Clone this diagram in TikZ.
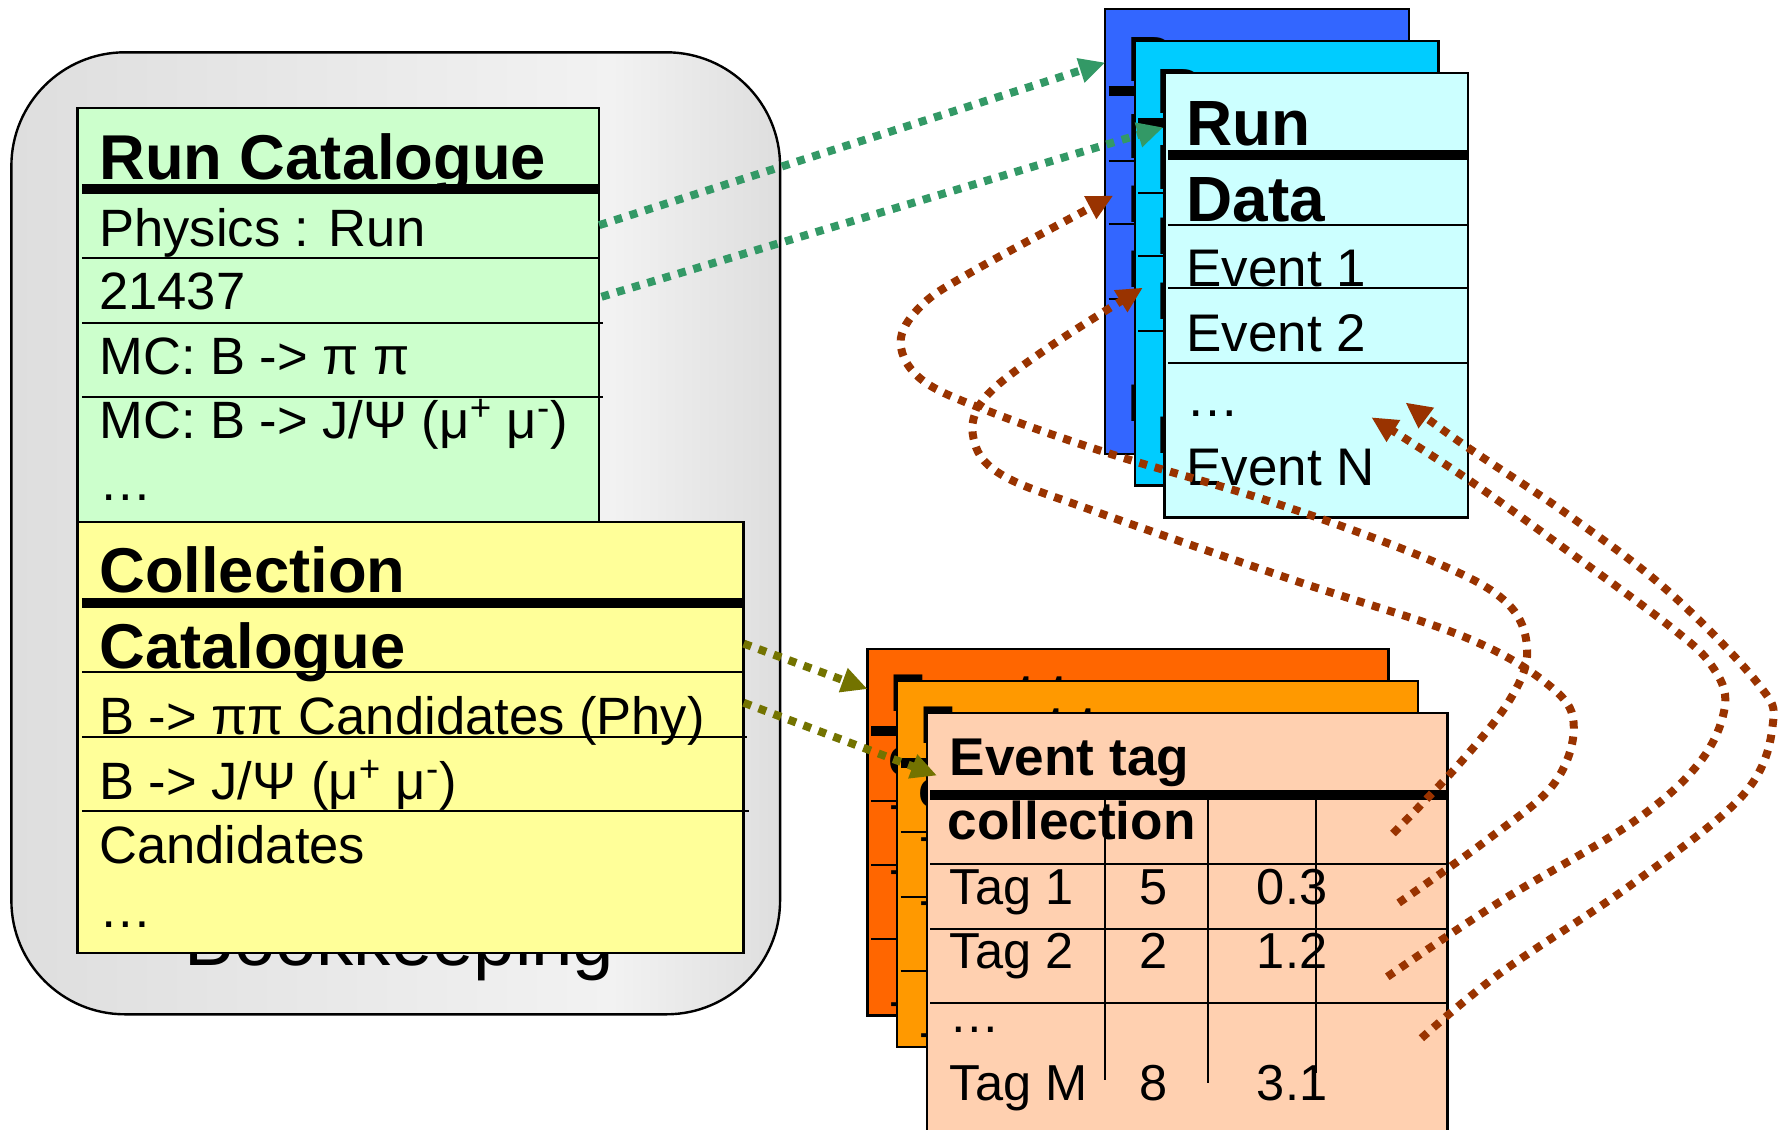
\documentclass[tikz,border=0pt]{standalone}
\usepackage{fontspec}
\setmainfont{Liberation Sans}
\usetikzlibrary{arrows.meta}
\definecolor{bkgray}{HTML}{DEDEDE}
\definecolor{bklight}{HTML}{F2F2F2}
\definecolor{rcgreen}{HTML}{CCFFCC}
\definecolor{ccyellow}{HTML}{FFFF99}
\definecolor{pgblue}{HTML}{3366FF}
\definecolor{pgcyan}{HTML}{00CCFF}
\definecolor{pglight}{HTML}{CCFFFF}
\definecolor{pgorange}{HTML}{FF6600}
\definecolor{pgamber}{HTML}{FF9900}
\definecolor{pgpeach}{HTML}{FFD0B0}
\definecolor{arrgreen}{HTML}{339966}
\definecolor{arrolive}{HTML}{737300}
\definecolor{arrbrown}{HTML}{993300}
\pgfdeclarehorizontalshading{bkshade}{100bp}{color(0bp)=(bkgray); color(25bp)=(bkgray); color(64bp)=(bklight); color(75bp)=(bkgray); color(100bp)=(bkgray)}
\tikzset{
  boxline/.style={draw=black, line width=1.2pt},
  thickrule/.style={line width=5pt},
  rowrule/.style={line width=1pt},
  basetxt/.style={inner sep=0pt, anchor=base west},
  cttl/.style={basetxt, font=\fontsize{31.7}{36}\selectfont\bfseries},
  ctxt/.style={basetxt, font=\fontsize{26.3}{30}\selectfont},
  rttl/.style={basetxt, font=\fontsize{32}{36}\selectfont\bfseries},
  rtxt/.style={basetxt, font=\fontsize{26.5}{30}\selectfont},
  ettl/.style={basetxt, font=\fontsize{26.6}{30}\selectfont\bfseries},
  etxt/.style={basetxt, font=\fontsize{25.3}{29}\selectfont},
  bktxt/.style={basetxt, font=\fontsize{37.2}{42}\selectfont},
  dotlink/.style={line width=4pt, dash pattern=on 4pt off 4pt, -{Triangle[length=13pt,width=12pt]}},
  greenlink/.style={dotlink, draw=arrgreen, arrgreen},
  olivelink/.style={dotlink, draw=arrolive, arrolive},
  brownlink/.style={dotlink, draw=arrbrown, arrbrown},
}
\newcommand\rdpage[4]{%
\begin{scope}[shift={(#2,#3)}]
\fill[#4] (0,0) rectangle (267,391);
\begin{scope}
\clip (0,0) rectangle (267,391);
\node[rttl] (#1a) at (19,64) {Run};
\draw[thickrule] (3,72) -- (267,72);
\node[rttl] (#1b) at (19,131) {Data};
\draw[rowrule] (3,134) -- (267,134);
\node[rtxt] (#1c) at (19,188) {Event 1};
\draw[rowrule] (3,189) -- (267,189);
\node[rtxt] (#1d) at (19,245) {Event 2};
\draw[rowrule] (3,255) -- (267,255);
\node[rtxt] (#1e) at (19,302) {…};
\node[rtxt] (#1f) at (19,363) {Event N};
\end{scope}
\draw[boxline] (0,0) rectangle (267,391);
\end{scope}}
\newcommand\etpage[5]{%
\begin{scope}[shift={(#2,#3)}]
\fill[#4] (0,0) rectangle (458,#5);
\begin{scope}
\clip (0,0) rectangle (458,#5);
\node[ettl] (#1a) at (20,55) {Event tag};
\draw[thickrule] (3,72) -- (458,72);
\node[ettl] (#1b) at (18,111) {collection};
\draw[rowrule] (157,74) -- (157,323);
\draw[rowrule] (247,74) -- (247,325);
\draw[rowrule] (342,74) -- (342,317);
\draw[rowrule] (3,133) -- (458,133);
\node[etxt] (#1c) at (20,168) {Tag 1};
\node[etxt] (#1d) at (187,168) {5};
\node[etxt] (#1e) at (290,168) {0.3};
\draw[rowrule] (3,190) -- (458,190);
\node[etxt] (#1f) at (20,225) {Tag 2};
\node[etxt] (#1g) at (187,225) {2};
\node[etxt] (#1h) at (290,225) {1.2};
\draw[rowrule] (3,255) -- (458,255);
\node[etxt] (#1i) at (20,281) {…};
\node[etxt] (#1j) at (20,341) {Tag M};
\node[etxt] (#1k) at (187,341) {8};
\node[etxt] (#1l) at (290,341) {3.1};
\end{scope}
\draw[boxline] (0,0) rectangle (458,#5);
\end{scope}}
\begin{document}
\begin{tikzpicture}[x=0.02cm, y=-0.02cm]
\clip (0,0) rectangle (1568,993);
\fill[white] (0,0) rectangle (1568,993);
% bookkeeping container
\path[shading=bkshade, draw=black, line width=1.2pt, rounded corners=2cm] (10,46) rectangle (686,892);
% run catalogue
\filldraw[boxline, fill=rcgreen] (68,95) rectangle (527,470);
\node[cttl] (rct) at (87,158) {Run Catalogue};
\draw[thickrule] (72,166) -- (527,166);
\node[ctxt] (rc1) at (87,217) {Physics : Run};
\draw[rowrule] (72,227) -- (527,227);
\node[ctxt] (rc2) at (87,272) {21437};
\draw[rowrule] (72,284) -- (530,284);
\node[ctxt] (rc3) at (87,329) {MC: B -> π π};
\draw[rowrule] (72,349) -- (530,349);
\node[ctxt] (rc4) at (87,386) {MC: B -> J/Ψ (μ\textsuperscript{+} μ\textsuperscript{-})};
\node[ctxt] (rc5) at (87,440) {…};
% bookkeeping label
\node[bktxt] (bk) at (162,849) {Bookkeeping};
% collection catalogue
\filldraw[boxline, fill=ccyellow] (68,459) rectangle (654,838);
\node[cttl] (cct1) at (87,521) {Collection};
\draw[thickrule] (72,530) -- (654,530);
\node[cttl] (cct2) at (87,588) {Catalogue};
\draw[rowrule] (72,591) -- (654,591);
\node[ctxt] (cc1) at (87,646) {B -> ππ Candidates (Phy)};
\draw[rowrule] (72,648) -- (657,648);
\node[ctxt] (cc2) at (87,703) {B -> J/Ψ (μ\textsuperscript{+} μ\textsuperscript{-})};
\draw[rowrule] (72,713) -- (659,713);
\node[ctxt] (cc3) at (87,759) {Candidates};
\node[ctxt] (cc4) at (87,816) {…};
% run data stack
\rdpage{rdA}{972}{8}{pgblue}
\rdpage{rdB}{998}{36}{pgcyan}
\rdpage{rdC}{1024}{64}{pglight}
% event tag stack
\etpage{etA}{763}{571}{pgorange}{322}
\etpage{etB}{789}{599}{pgamber}{322}
\etpage{etC}{815}{627}{pgpeach}{420}
% connector ends
\coordinate (g1s) at (527,198);  \coordinate (g1e) at (972,55);
\coordinate (g2s) at (529,261);  \coordinate (g2e) at (1023,112);
\coordinate (o1s) at (654,566);  \coordinate (o1e) at (763,606);
\coordinate (o2s) at (654,618);  \coordinate (o2e) at (824,682);
\coordinate (bAs) at (1225,733); \coordinate (bAe) at (979,172);
\coordinate (bBs) at (1230,794); \coordinate (bBe) at (1005,253);
\coordinate (bCs) at (1220,859); \coordinate (bCe) at (1206,367);
\coordinate (bDs) at (1250,913); \coordinate (bDe) at (1236,354);
% green links
\draw[greenlink] (g1s) -- (g1e);
\draw[greenlink] (g2s) -- (g2e);
% olive links
\draw[olivelink] (o1s) -- (o1e);
\draw[olivelink] (o2s) -- (o2e);
% brown links
\draw[brownlink] plot[smooth, tension=0.6] coordinates {(bAs) (1284,671) (1328,615) (1343,572) (1325,530) (1261,494) (1123,443) (976,399) (873,363) (812,335) (792,302) (809,270) (853,240) (bAe)};
\draw[brownlink] plot[smooth, tension=0.6] coordinates {(bBs) (1310,737) (1366,690) (1384,640) (1365,605) (1290,561) (1137,510) (961,449) (880,417) (856,385) (866,350) (920,307) (bBe)};
\draw[brownlink] plot[smooth, tension=0.6] coordinates {(bCs) (1319,793) (1436,723) (1495,670) (1517,620) (1505,585) (1470,552) (1378,484) (1290,421) (bCe)};
\draw[brownlink] plot[smooth, tension=0.6] coordinates {(bDs) (1319,856) (1436,777) (1533,699) (1559,637) (1545,600) (1466,519) (1378,452) (1290,393) (bDe)};
\end{tikzpicture}
\end{document}
